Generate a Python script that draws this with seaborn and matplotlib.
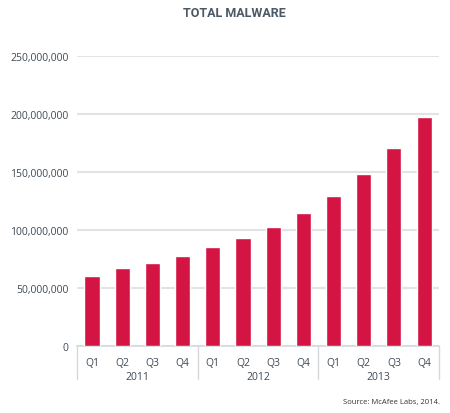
import numpy as np
import pandas as pd
import matplotlib
matplotlib.use("Agg")
import matplotlib.pyplot as plt
import matplotlib.transforms as mtransforms
import seaborn as sns

# data
years = ["2011", "2012", "2013"]
quarters = ["Q1", "Q2", "Q3", "Q4"]
total_malware = [60.3, 67.2, 71.5, 77.6,
                 85.3, 93.1, 102.6, 114.7,
                 129.3, 148.3, 170.7, 197.4]  # millions
y_ticks = [0, 50, 100, 150, 200, 250]  # millions

BAR_COLOR = "#D41443"
GRID_COLOR = "#E1E4E4"
TEXT_COLOR = "#3E4A56"

sns.set_theme(style="white")
plt.rcParams["font.family"] = ["Open Sans", "DejaVu Sans"]

df = pd.DataFrame({
    "period": [f"{y}-{q}" for y in years for q in quarters],
    "value": np.array(total_malware) * 1e6,
})

fig = plt.figure(figsize=(4.5, 4.14), dpi=100)
ax = fig.add_axes([0.171, 0.162, 0.805, 0.701])

sns.barplot(data=df, x="period", y="value", color=BAR_COLOR, width=0.5,
            saturation=1, ax=ax, zorder=3)

ax.set_ylim(0, 250e6)
ax.set_yticks([v * 1e6 for v in y_ticks])
ax.set_yticklabels([f"{v * 1000000:,}" for v in y_ticks], fontsize=7.5, color=TEXT_COLOR)
ax.yaxis.grid(True, color=GRID_COLOR, linewidth=1.5, zorder=0)
ax.tick_params(axis="both", length=0, pad=6)

ax.set_xlim(-0.5, len(df) - 0.5)
ax.set_xticks(range(len(df)))
ax.set_xticklabels(quarters * len(years), fontsize=7.5, color=TEXT_COLOR)
ax.tick_params(axis="x", pad=8)
ax.set_xlabel("")
ax.set_ylabel("")

for side in ["top", "right", "left"]:
    ax.spines[side].set_visible(False)
ax.spines["bottom"].set_color("#D5D9DA")
ax.spines["bottom"].set_linewidth(1.2)

# year group labels and separators below the axis
trans = mtransforms.blended_transform_factory(ax.transData, ax.transAxes)
n_q = len(quarters)
for i, yr in enumerate(years):
    center = i * n_q + (n_q - 1) / 2
    ax.text(center, -0.106, yr, transform=trans, ha="center", va="center",
            fontsize=7.5, color=TEXT_COLOR)
for i in range(len(years) + 1):
    xpos = i * n_q - 0.5
    ax.plot([xpos, xpos], [0, -0.113], transform=trans, color="#D5D9DA",
            linewidth=1.0, clip_on=False)

fig.text(0.52, 0.968, "TOTAL MALWARE", ha="center", va="center",
         fontsize=9, fontweight="bold", color="#4D5866", family="Roboto")
fig.text(0.978, 0.027, "Source: McAfee Labs, 2014.", ha="right", va="center",
         fontsize=5.5, color="#333333")

fig.savefig("out.png", dpi=100)
